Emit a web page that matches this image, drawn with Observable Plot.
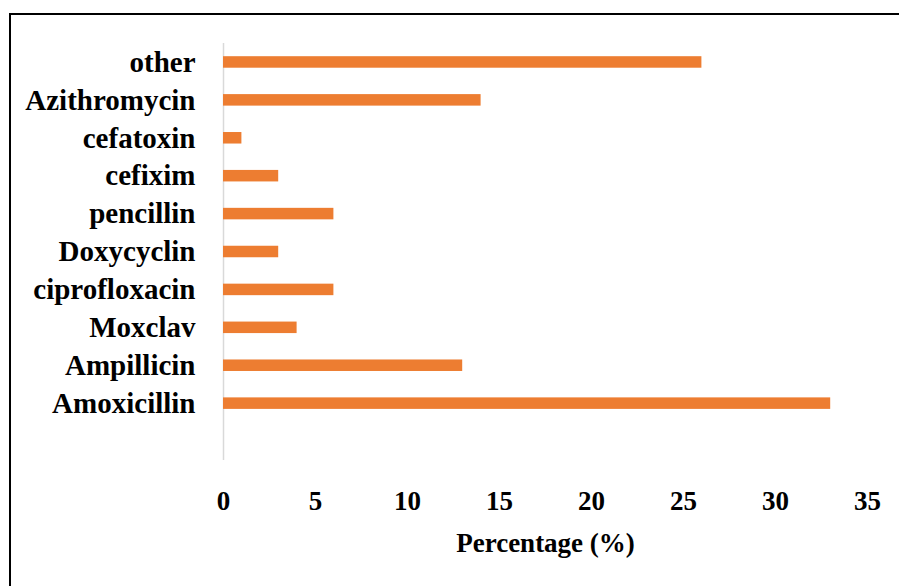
<!DOCTYPE html>
<html>
<head>
<meta charset="utf-8">
<script src="https://cdn.jsdelivr.net/npm/d3@7"></script>
<script src="https://cdn.jsdelivr.net/npm/@observablehq/plot@0.6"></script>
<style>
  html, body { margin: 0; padding: 0; background: #fff; overflow: hidden; }
  #chart { position: absolute; left: 0; top: 0; }
  #border { position: absolute; left: 8.5px; top: 12.5px; width: 1000px; height: 1000px;
            border-left: 2.5px solid #000; border-top: 2.5px solid #000; pointer-events: none; }
</style>
</head>
<body>
<div id="chart"></div>
<div id="border"></div>
<script>
// Categories, top to bottom (the last, blank slot is the empty band below Amoxicillin)
const drugs = ["other", "Azithromycin", "cefatoxin", "cefixim", "pencillin", "Doxycyclin",
               "ciprofloxacin", "Moxclav", "Ampillicin", "Amoxicillin"];
const percentages = [26, 14, 1, 3, 6, 3, 6, 4, 13, 33];
const xTicks = [0, 5, 10, 15, 20, 25, 30, 35];
const xTitle = "Percentage (%)";

const data = drugs.map((d, i) => ({drug: d, value: percentages[i]}));
const yDomain = [...drugs, " "];

const chart = Plot.plot({
  width: 899,
  height: 586,
  marginTop: 43,
  marginBottom: 126,
  marginLeft: 223,
  marginRight: 32,
  style: {background: "transparent", fontFamily: "'Liberation Serif', serif", fontWeight: "bold", color: "#000"},
  x: {domain: [0, 35], ticks: xTicks, axis: null},
  y: {domain: yDomain, paddingInner: 0, paddingOuter: 0, round: false, axis: null},
  marks: [
    Plot.ruleX([0], {stroke: "#d9d9d9", strokeWidth: 1.5}),
    Plot.barX(data, {x: "value", y: "drug", fill: "#ED7D31", insetTop: 13.2, insetBottom: 13.2}),
    Plot.axisY({tickSize: 0, tickPadding: 28, fontSize: 29, fontWeight: "bold", label: null}),
    Plot.axisX({ticks: xTicks, tickSize: 0, tickPadding: 30, fontSize: 27, fontWeight: "bold", label: null}),
    Plot.text([xTitle], {frameAnchor: "bottom", lineAnchor: "middle", dy: 83, fontSize: 27, fontWeight: "bold", fill: "#000"})
  ]
});
document.getElementById("chart").appendChild(chart);
</script>
</body>
</html>
